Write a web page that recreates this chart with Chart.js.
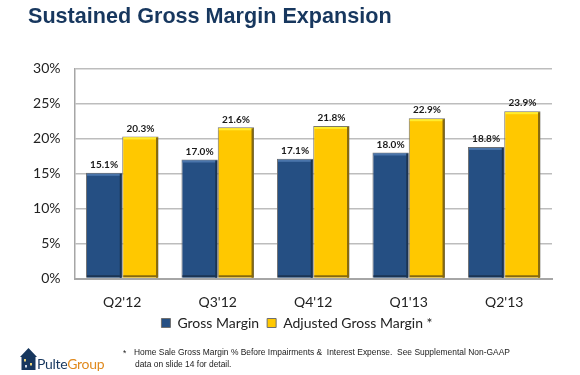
<!DOCTYPE html>
<html>
<head>
<meta charset="utf-8">
<script src="https://cdn.jsdelivr.net/npm/chart.js@4"></script>
<style>
html, body { margin: 0; padding: 0; background: #fff; }
#wrap { position: relative; width: 580px; height: 375px; overflow: hidden; }
#wrap canvas { position: absolute; left: 0; top: 0; }
h1 { position: absolute; left: 28px; top: 1px; margin: 0; font: bold 21.6px/30px "Liberation Sans", sans-serif; color: #17375e; white-space: nowrap; }
.note { position: absolute; font: 8.44px/12px "Liberation Sans", sans-serif; color: #222; white-space: pre; }
#logo { position: absolute; left: 20px; top: 348px; }
#brand { position: absolute; left: 37px; top: 354px; font: 14px/20px "Lato", sans-serif; letter-spacing: -0.3px; color: #17375e; }
#brand span { color: #e08a1e; }
</style>
</head>
<body>
<div id="wrap">
  <canvas id="chart_grossMargin" width="580" height="375"></canvas>
  <h1>Sustained Gross Margin Expansion</h1>
  <svg id="logo" width="18" height="23" viewBox="0 0 18 23">
    <path d="M0 9 L8.5 0 L17 9 L15.5 9 L15.5 22 L1.5 22 L1.5 9 Z" fill="#17375e"/>
    <rect x="4" y="11" width="2" height="2.5" fill="#e9d27a"/>
    <rect x="10" y="15" width="2" height="2.5" fill="#e9d27a"/>
    <rect x="5" y="17" width="2" height="2.5" fill="#cfd8e6"/>
  </svg>
  <div id="brand">Pulte<span>Group</span></div>
  <div class="note" style="left:123px; top:347px;">*</div>
  <div class="note" style="left:134px; top:346px;">Home Sale Gross Margin % Before Impairments &amp;  Interest Expense.  See Supplemental Non-GAAP</div>
  <div class="note" style="left:135px; top:358px;">data on slide 14 for detail.</div>
</div>
<script>
var quarters = ["Q2'12", "Q3'12", "Q4'12", "Q1'13", "Q2'13"];
var grossMargin = [15.1, 17.0, 17.1, 18.0, 18.8];
var adjustedGrossMargin = [20.3, 21.6, 21.8, 22.9, 23.9];

// bevel on the bars + value labels above them
var barDecor = {
    id: 'barDecor',
    afterLayout: function(chart) {
        // legend sits a bit right of the canvas centre
        chart.legend.left += 21;
        chart.legend.right += 21;
    },
    afterDatasetsDraw: function(chart) {
        var ctx = chart.ctx;
        chart.data.datasets.forEach(function(ds, i) {
            chart.getDatasetMeta(i).data.forEach(function(bar, j) {
                var l = bar.x - bar.width / 2, t = bar.y, h = bar.base - bar.y, w = bar.width;
                ctx.save();
                ctx.fillStyle = ds.bevelTop;
                ctx.fillRect(l + 1, t + 1, w - 2, 2);
                ctx.fillStyle = ds.bevelSide;
                ctx.fillRect(l + w - 2.5, t + 1, 2, h - 1);
                ctx.fillRect(l + 1, bar.base - 2.5, w - 2, 2);
                ctx.fillStyle = '#1a1a1a';
                ctx.font = 'bold 10px Lato, sans-serif';
                ctx.textAlign = 'center';
                ctx.textBaseline = 'bottom';
                ctx.fillText(ds.data[j].toFixed(1) + '%', bar.x, t - 3);
                ctx.restore();
            });
        });
    }
};

var chart_grossMargin = new Chart(document.getElementById('chart_grossMargin'), {
    type: 'bar',
    data: {
        labels: quarters,
        datasets: [
            {
                label: 'Gross Margin',
                data: grossMargin,
                backgroundColor: '#254f83',
                borderColor: '#6f6f6f',
                borderWidth: 1,
                bevelTop: '#4a75ab',
                bevelSide: '#1b3453',
                categoryPercentage: 0.76,
                barPercentage: 1
            },
            {
                label: 'Adjusted Gross Margin *',
                data: adjustedGrossMargin,
                backgroundColor: '#ffc800',
                borderColor: '#6f6f6f',
                borderWidth: 1,
                bevelTop: '#ffec2e',
                bevelSide: '#86690f',
                categoryPercentage: 0.76,
                barPercentage: 1
            }
        ]
    },
    options: {
        animation: false,
        responsive: false,
        layout: { padding: { left: 0, right: 28, top: 68.5, bottom: 35 } },
        plugins: {
            title: { display: false },
            tooltip: { enabled: false },
            legend: {
                display: true,
                position: 'bottom',
                labels: {
                    boxWidth: 9,
                    boxHeight: 9,
                    padding: 8,
                    color: '#222',
                    font: { family: 'Lato', size: 14 }
                }
            }
        },
        scales: {
            x: {
                afterFit: function(scale) { scale.height = 29.5; },
                grid: { display: false },
                border: { color: '#a6a6a6', width: 2 },
                ticks: {
                    color: '#222',
                    font: { family: 'Lato', size: 14 },
                    padding: 8,
                    maxRotation: 0
                }
            },
            y: {
                min: 0,
                max: 30,
                afterFit: function(scale) { scale.width = 74.5; },
                grid: { color: '#bdbdbd', lineWidth: 1.5, drawTicks: false },
                border: { color: '#a6a6a6', width: 1.5 },
                ticks: {
                    stepSize: 5,
                    color: '#222',
                    padding: 14,
                    font: { family: 'Lato', size: 14 },
                    callback: function(value) { return value + '%'; }
                }
            }
        }
    },
    plugins: [barDecor]
});
</script>
</body>
</html>
